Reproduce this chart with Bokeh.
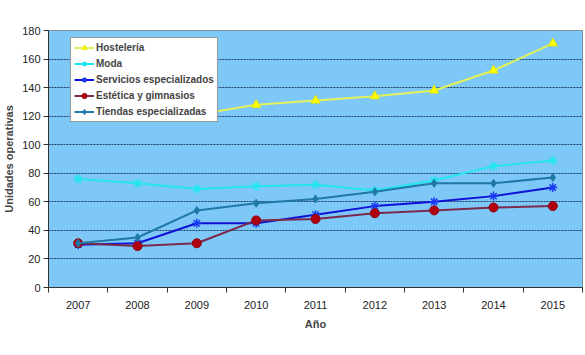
from bokeh.plotting import figure
from bokeh.models import FixedTicker, Range1d, Legend, LegendItem
from bokeh.embed import file_html
from bokeh.resources import INLINE

years = [2007, 2008, 2009, 2010, 2011, 2012, 2013, 2014, 2015]
hosteleria = [119, 120, 121, 128, 131, 134, 138, 152, 171]
moda = [76, 73, 69, 71, 72, 68, 75, 85, 89]
servicios = [30, 31, 45, 45, 51, 57, 60, 64, 70]
estetica = [31, 29, 31, 47, 48, 52, 54, 56, 57]
tiendas = [31, 35, 54, 59, 62, 67, 73, 73, 77]
y_ticks = [0, 20, 40, 60, 80, 100, 120, 140, 160, 180]

FONT = "Liberation Sans"

p = figure(width=585, height=355, output_backend="svg", toolbar_location=None,
           x_range=Range1d(2006.5, 2015.5), y_range=Range1d(0, 180),
           min_border_left=48, min_border_right=3, min_border_top=30, min_border_bottom=68)
p.background_fill_color = "#7EC8F7"
p.border_fill_color = "white"
p.outline_line_color = "#7f8c99"
p.outline_line_width = 1

# grid
p.xgrid.grid_line_color = None
p.ygrid.ticker = FixedTicker(ticks=y_ticks)
p.ygrid.grid_line_color = "#1d3d63"
p.ygrid.grid_line_dash = "2 1"
p.ygrid.grid_line_width = 1.2

# axes
p.yaxis.ticker = FixedTicker(ticks=y_ticks)
p.yaxis.major_tick_in = 0
p.yaxis.major_tick_out = 5
p.yaxis.minor_tick_line_color = None
p.yaxis.axis_line_color = "#333333"
p.yaxis.major_tick_line_color = "#333333"
p.yaxis.major_label_text_font = FONT
p.yaxis.major_label_text_font_size = "11px"
p.yaxis.major_label_text_color = "#222222"
p.yaxis.major_label_standoff = 3
p.yaxis.axis_label = "Unidades operativas"
p.yaxis.axis_label_text_font = FONT
p.yaxis.axis_label_text_font_size = "11px"
p.yaxis.axis_label_text_font_style = "bold"
p.yaxis.axis_label_standoff = 4

bounds = [y - 0.5 for y in years] + [years[-1] + 0.5]
p.xaxis.ticker = FixedTicker(ticks=years, minor_ticks=bounds)
p.xaxis.major_tick_line_color = None
p.xaxis.major_tick_out = 0
p.xaxis.major_tick_in = 0
p.xaxis.minor_tick_in = 0
p.xaxis.minor_tick_out = 5
p.xaxis.minor_tick_line_color = "#333333"
p.xaxis.axis_line_color = "#333333"
p.xaxis.major_label_text_font = FONT
p.xaxis.major_label_text_font_size = "11px"
p.xaxis.major_label_text_color = "#222222"
p.xaxis.major_label_standoff = 8
p.xaxis.axis_label = "Año"
p.xaxis.axis_label_text_font = FONT
p.xaxis.axis_label_text_font_size = "11px"
p.xaxis.axis_label_text_font_style = "bold"
p.xaxis.axis_label_standoff = 6

items = []

r1 = p.line(years, hosteleria, line_color="#E2F25A", line_width=2)
m1 = p.scatter(years, hosteleria, marker="triangle", size=9, fill_color="#FFFF00", line_color="#E8E800")
items.append(LegendItem(label="Hostelería", renderers=[r1, m1]))

r2 = p.line(years, moda, line_color="#22E6F0", line_width=2)
m2 = p.scatter(years, moda, marker="asterisk", size=9, line_color="#22E6F0", line_width=1.5)
items.append(LegendItem(label="Moda", renderers=[r2, m2]))

r3 = p.line(years, servicios, line_color="#1010D8", line_width=2)
m3 = p.scatter(years, servicios, marker="asterisk", size=9, line_color="#1A3AF0", line_width=1.5)
items.append(LegendItem(label="Servicios especializados", renderers=[r3, m3]))

r4 = p.line(years, estetica, line_color="#7A2A4A", line_width=2)
m4 = p.scatter(years, estetica, marker="circle", size=9, fill_color="#B00010", line_color="#900010")
items.append(LegendItem(label="Estética y gimnasios", renderers=[r4, m4]))

r5 = p.line(years, tiendas, line_color="#1F78A8", line_width=2)
m5 = p.scatter(years, tiendas, marker="diamond", size=8, fill_color="#1F78A8", line_color="#1F78A8")
items.append(LegendItem(label="Tiendas especializadas", renderers=[r5, m5]))

legend = Legend(items=items, location=(22, 165))
legend.background_fill_color = "white"
legend.background_fill_alpha = 1
legend.border_line_color = "#333333"
legend.border_line_width = 1
legend.label_text_font = FONT
legend.label_text_font_size = "10px"
legend.label_text_font_style = "bold"
legend.label_height = 13
legend.glyph_height = 13
legend.glyph_width = 20
legend.spacing = 3
legend.padding = 3
legend.margin = 0
legend.label_standoff = 2
p.add_layout(legend, "center")

open("out.html", "w").write(file_html(p, INLINE))
